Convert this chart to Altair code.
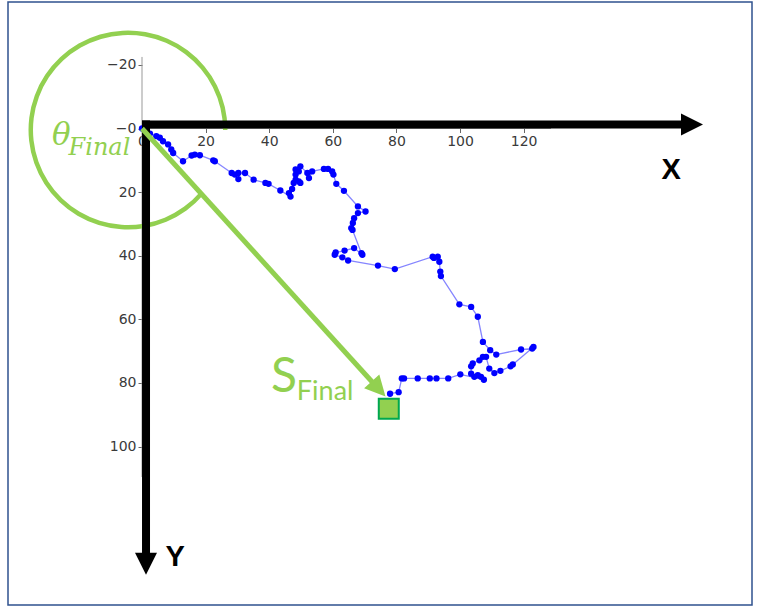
import altair as alt
import pandas as pd

# ---- random-walk data (x right, y down) ----
walk_x = [0, 2.5, 4.5, 5.6, 6.6, 8.2, 9.2, 9.8, 12.9, 15.6,
          16.6, 18.2, 22.4, 22.9, 28.2, 29.2, 30.3, 30.3, 32.4, 35.1,
          38.8, 39.8, 43.5, 46.7, 46.2, 47.2, 47.7, 49.3, 49.8, 48.3,
          48.3, 49.3, 48.3, 49.8, 52.0, 52.5, 53.5, 57.2, 58.5, 59.8,
          60.2, 61.1, 63.5, 67.9, 70.3, 67.9, 66.7, 66.3, 65.8, 66.2,
          69.0, 69.3, 66.7, 63.7, 60.9, 60.6, 63.0, 64.8, 74.2, 79.5,
          91.4, 91.8, 93.0, 93.5, 93.8, 94.0, 99.8, 103.5, 105.6, 107.2,
          109.5, 111.4, 119.2, 122.7, 123.1, 116.6, 115.9, 112.7, 110.8, 109.2,
          108.2, 107.2, 106.1, 104.0, 103.5, 103.5, 104.5, 105.6, 106.6, 107.5,
          100.1, 96.3, 92.6, 90.5, 86.7, 82.4, 81.7, 80.7, 78.0]
walk_y = [0, 1.6, 2.4, 2.9, 4.0, 5.0, 6.6, 7.7, 10.3, 8.5,
          8.2, 8.4, 10.0, 10.3, 14.0, 14.5, 15.9, 14.0, 14.0, 16.1,
          17.1, 17.4, 19.5, 21.4, 20.3, 19.0, 17.1, 16.6, 17.1, 16.1,
          14.5, 13.5, 12.9, 11.9, 14.0, 15.6, 13.5, 12.7, 12.7, 13.5,
          14.5, 17.4, 19.6, 24.5, 26.1, 26.6, 28.2, 29.7, 31.3, 31.9,
          39.2, 39.7, 37.6, 38.4, 39.0, 39.7, 40.5, 41.5, 43.1, 44.2,
          40.3, 40.7, 40.3, 41.9, 45.0, 46.4, 55.3, 56.1, 59.2, 67.1,
          69.7, 71.1, 69.5, 69.2, 68.7, 74.2, 74.8, 76.2, 76.9, 75.5,
          71.8, 71.8, 72.9, 73.9, 74.8, 77.1, 78.1, 77.6, 78.1, 79.0,
          77.3, 78.6, 78.6, 78.6, 78.6, 78.6, 78.6, 82.9, 83.4]

x_ticks = [0, 20, 40, 60, 80, 100, 120]
y_ticks = [-20, 0, 20, 40, 60, 80, 100]

# ---- annotation anchors (data units) ----
spine_x = [0, 0]; spine_x2 = [0, 128.6]; spine_y = [-22.5, 0]; spine_y2 = [109.6, 0]
bar_x = [0, 1.26]; bar_x2 = [169.8, 1.26]; bar_y = [-1.26, -2.52]; bar_y2 = [-1.26, 133.5]
head_x = [172.96, 1.26]; head_y = [-1.26, 136.9]
head_shape = ["M-1,-1L1,0L-1,1Z", "M-1,-1L1,-1L0,1Z"]
arc_center = [-4.40, 0.47]
vec_end = [74.4, 81.9]
final_pos = [77.6, 88.1]
lbl_text = ["X", "Y"]; lbl_x = [166.4, 10.4]; lbl_y = [16.0, 137.7]

GREEN = "#92D050"
xscale = alt.Scale(domain=[-42.14, 191.82], nice=False, zero=False)
yscale = alt.Scale(domain=[-39.78, 149.84], nice=False, zero=False, reverse=True)
common_axis = dict(domain=False, grid=False, tickColor="#666", tickSize=4, labelPadding=2,
                   labelFont="DejaVu Sans", labelFontSize=14, labelColor="#3a3a3a", title=None,
                   labelFlush=False, labelOverlap=False)
xaxis = alt.Axis(values=x_ticks, orient="bottom", offset=-476.5, **common_axis)
yaxis = alt.Axis(values=y_ticks, orient="left", offset=-134,
                 labelExpr="datum.value === 0 ? '\u22120' : datum.label", **common_axis)


def X(f="x"):
    return alt.X(f"{f}:Q", scale=xscale, axis=xaxis)


def Y(f="y"):
    return alt.Y(f"{f}:Q", scale=yscale, axis=yaxis)


walk = pd.DataFrame({"x": walk_x, "y": walk_y, "i": list(range(len(walk_x)))})

spines = alt.Chart(pd.DataFrame({"x": spine_x, "x2": spine_x2, "y": spine_y, "y2": spine_y2})).mark_rule(
    color="#999999", strokeWidth=1).encode(x=X(), x2="x2:Q", y=Y(), y2="y2:Q")

line = alt.Chart(walk).mark_line(color="#3333FF", opacity=0.6, strokeWidth=1.3).encode(
    x=X(), y=Y(), order="i:Q")
pts = alt.Chart(walk).mark_circle(color="#0000FF", opacity=1, size=40).encode(x=X(), y=Y())

arc = alt.Chart(pd.DataFrame({"x": [arc_center[0]], "y": [arc_center[1]]})).mark_arc(
    radius=99.5, radius2=95, theta=2.281, theta2=7.854, color=GREEN).encode(x=X(), y=Y())

bars = alt.Chart(pd.DataFrame({"x": bar_x, "x2": bar_x2, "y": bar_y, "y2": bar_y2})).mark_rule(
    color="black", strokeWidth=8, strokeCap="butt").encode(x=X(), x2="x2:Q", y=Y(), y2="y2:Q")

heads = alt.layer(*[
    alt.Chart(pd.DataFrame({"x": [head_x[k]], "y": [head_y[k]]})).mark_point(
        shape=head_shape[k], size=484, filled=True, color="black", opacity=1, strokeWidth=0
    ).encode(x=X(), y=Y())
    for k in range(2)
])

vec = alt.Chart(pd.DataFrame({"x": [0], "y": [0], "x2": [vec_end[0]], "y2": [vec_end[1]]})).mark_rule(
    color=GREEN, strokeWidth=5, strokeCap="butt").encode(x=X(), x2="x2:Q", y=Y(), y2="y2:Q")
vec_head = alt.Chart(pd.DataFrame({"x": [vec_end[0]], "y": [vec_end[1]]})).mark_point(
    shape="M-1,-1L1,0L-1,1Z", size=420, angle=47.8, filled=True, color=GREEN, opacity=1,
    strokeWidth=0).encode(x=X(), y=Y())

square = alt.Chart(pd.DataFrame({"x": [final_pos[0]], "y": [final_pos[1]]})).mark_square(
    size=400, fill=GREEN, stroke="#00A84F", strokeWidth=2, opacity=1).encode(x=X(), y=Y())


def txt(t, x, y, **kw):
    return alt.Chart(pd.DataFrame({"x": [x], "y": [y], "t": [t]})).mark_text(
        align="left", baseline="alphabetic", **kw).encode(x=X(), y=Y(), text="t:N")


texts = alt.layer(
    txt("\u03b8", -28.3, 5.19, font="DejaVu Serif", fontStyle="italic", fontSize=31, color=GREEN),
    txt("Final", -23.1, 8.33, font="DejaVu Serif", fontStyle="italic", fontSize=24, color=GREEN),
    txt("S", 40.6, 82.9, font="Lato", fontSize=48, color=GREEN),
    txt("Final", 48.7, 85.4, font="Lato", fontSize=27, color=GREEN),
    alt.Chart(pd.DataFrame({"x": lbl_x, "y": lbl_y, "t": lbl_text})).mark_text(
        align="center", baseline="alphabetic", font="Liberation Sans", fontWeight="bold",
        fontSize=29, color="black").encode(x=X(), y=Y(), text="t:N"),
)

chart = alt.layer(spines, line, pts, arc, bars, heads, vec, vec_head, square, texts).properties(
    width=744, height=603,
    autosize=alt.AutoSizeParams(type="none"),
    padding={"left": 8, "top": 2, "right": 6, "bottom": 3},
    background="white",
).configure_view(stroke="#2F528F", strokeWidth=1.5)

chart.save("out.html", embed_options={"renderer": "svg", "actions": False})
